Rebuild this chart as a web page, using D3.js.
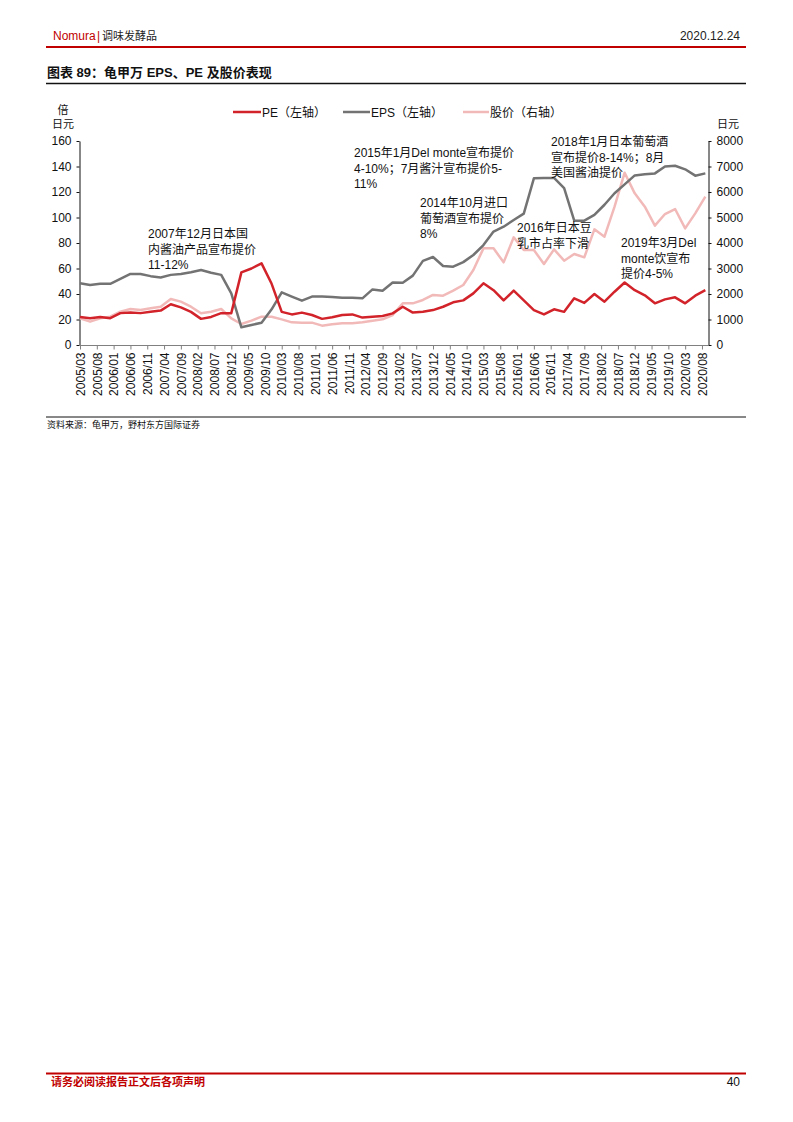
<!DOCTYPE html>
<html><head><meta charset="utf-8">
<script src="https://cdn.jsdelivr.net/npm/d3@7"></script>
<style>
body{margin:0;background:#fff;}
svg{display:block;font-family:"Liberation Sans",Arial,"Noto Sans CJK SC",sans-serif;}
</style></head>
<body>
<svg id="c" width="793" height="1122"></svg>
<script>
const quarters = ["2005/03","2005/06","2005/09","2005/12","2006/03","2006/06","2006/09","2006/12","2007/03","2007/06","2007/09","2007/12","2008/03","2008/06","2008/09","2008/12","2009/03","2009/06","2009/09","2009/12","2010/03","2010/06","2010/09","2010/12","2011/03","2011/06","2011/09","2011/12","2012/03","2012/06","2012/09","2012/12","2013/03","2013/06","2013/09","2013/12","2014/03","2014/06","2014/09","2014/12","2015/03","2015/06","2015/09","2015/12","2016/03","2016/06","2016/09","2016/12","2017/03","2017/06","2017/09","2017/12","2018/03","2018/06","2018/09","2018/12","2019/03","2019/06","2019/09","2019/12","2020/03","2020/06","2020/09"];
const pe = [22,21,22,21,25,25.4,25,26,27,32,29.5,26,20.5,22,25,25,57,60,64,48,26,24,25.4,23.5,20.5,21.7,23.5,24,21.5,22.2,22.7,24.8,30,25.4,26,27.4,30,33.5,35,40.5,48.4,43,35,42.6,35,27.4,24,28,26,36.6,33,40,34,41.8,49,43,39,32.7,35.8,37.4,32.7,38.7,43];
const eps = [48.4,47,48,48,51.8,55.7,55.7,54,53,55,55.7,57,58.8,56.7,55,40.5,13.9,15.7,17.5,28,41.3,38,34.8,38,38,37.6,37,37,36.6,43.6,42.6,49,48.9,54.4,66,69,62,61.4,65,70.6,78.4,89,92.8,98,103,130.7,131,131,123,97.5,97.5,102,110,119,126,133,134,134.6,140,140.6,137.8,132.8,134.6];
const price = [1046,915,1046,1111,1307,1411,1372,1438,1503,1804,1700,1503,1242,1307,1411,1046,823,954,1111,1111,1006,889,876,876,758,810,850,850,889,954,1006,1176,1634,1634,1765,1961,1934,2130,2353,2941,3790,3790,3241,4222,3725,3725,3176,3751,3307,3568,3438,4535,4248,5424,6757,5947,5424,4679,5136,5333,4574,5162,5816];
const xTickLabels = ["2005/03","2005/08","2006/01","2006/06","2006/11","2007/04","2007/09","2008/02","2008/07","2008/12","2009/05","2009/10","2010/03","2010/08","2011/01","2011/06","2011/11","2012/04","2012/09","2013/02","2013/07","2013/12","2014/05","2014/10","2015/03","2015/08","2016/01","2016/06","2016/11","2017/04","2017/09","2018/02","2018/07","2018/12","2019/05","2019/10","2020/03","2020/08"];
const leftTicks = [0,20,40,60,80,100,120,140,160];
const rightTicks = [0,1000,2000,3000,4000,5000,6000,7000,8000];
const seriesNames = ["PE（左轴）","EPS（左轴）","股价（右轴）"];
const annotations = [
  {lines:["2007年12月日本国","内酱油产品宣布提价","11-12%"], x:148, y:238},
  {lines:["2015年1月Del monte宣布提价","4-10%；7月酱汁宣布提价5-","11%"], x:354, y:157},
  {lines:["2014年10月进口","葡萄酒宣布提价","8%"], x:420, y:207},
  {lines:["2016年日本豆","乳市占率下滑"], x:517, y:232},
  {lines:["2018年1月日本葡萄酒","宣布提价8-14%；8月","美国酱油提价"], x:551, y:146},
  {lines:["2019年3月Del","monte饮宣布","提价4-5%"], x:621, y:247}
];

const mIdx = s => { const [y,m] = s.split("/").map(Number); return (y-2005)*12 + (m-3); };
const svg = d3.select("#c");
const RED = "#d2232a", GRAY = "#737373", PINK = "#f2b9b9", HRED = "#c00000";

// header
svg.append("text").attr("x",53).attr("y",40).attr("font-size",12).attr("fill",HRED).text("Nomura");
svg.append("text").attr("x",97).attr("y",40).attr("font-size",12).attr("fill",HRED).text("|");
svg.append("text").attr("x",102).attr("y",40).attr("font-size",11).attr("fill","#222").text("调味发酵品");
svg.append("text").attr("x",740).attr("y",40).attr("font-size",12).attr("text-anchor","end").attr("fill","#222").text("2020.12.24");
svg.append("line").attr("x1",46).attr("x2",746).attr("y1",47).attr("y2",47).attr("stroke",HRED).attr("stroke-width",2);
svg.append("text").attr("x",47).attr("y",77).attr("font-size",13).attr("font-weight","bold").attr("fill","#111").text("图表 89：龟甲万 EPS、PE 及股价表现");
svg.append("line").attr("x1",46).attr("x2",746).attr("y1",83.5).attr("y2",83.5).attr("stroke","#111").attr("stroke-width",1.3);

// scales
const x = d3.scaleLinear().domain([0,187]).range([80,708.7]);
const yL = d3.scaleLinear().domain([0,160]).range([345,141]);
const yR = d3.scaleLinear().domain([0,8000]).range([345,141]);

// axes
const gL = svg.append("g").attr("transform","translate(79.5,0)")
  .call(d3.axisLeft(yL).tickValues(leftTicks).tickFormat(d3.format("d")).tickSize(3).tickSizeOuter(0));
gL.selectAll("text").attr("font-size",12).attr("fill","#111").attr("font-family",null).attr("x",-8);
gL.selectAll("line,path").attr("stroke","#111");
const gR = svg.append("g").attr("transform","translate(708.5,0)")
  .call(d3.axisRight(yR).tickValues(rightTicks).tickFormat(d3.format("d")).tickSize(3).tickSizeOuter(0));
gR.selectAll("text").attr("font-size",12).attr("fill","#111").attr("font-family",null).attr("x",8);
gR.selectAll("line,path").attr("stroke","#111");
const gX = svg.append("g").attr("transform","translate(0,345.5)")
  .call(d3.axisBottom(x).tickValues(xTickLabels.map(mIdx)).tickFormat((d,i)=>xTickLabels[i]).tickSize(4).tickSizeOuter(0));
gX.select("path").attr("stroke","#808080").attr("d","M79.5,0H708.5");
gX.selectAll("line").attr("stroke","#808080");
gX.selectAll("text").attr("font-size",12).attr("fill","#111").attr("font-family",null)
  .attr("transform","rotate(-90)").attr("text-anchor","end").attr("x",-7).attr("y",0).attr("dy","0.35em");

// lines
const mk = (arr, ys) => d3.line().x((d,i)=>x(mIdx(quarters[i]))).y(d=>ys(d))(arr);
svg.append("path").attr("d",mk(price,yR)).attr("fill","none").attr("stroke",PINK).attr("stroke-width",2.5).attr("stroke-linejoin","round");
svg.append("path").attr("d",mk(eps,yL)).attr("fill","none").attr("stroke",GRAY).attr("stroke-width",2.5).attr("stroke-linejoin","round");
svg.append("path").attr("d",mk(pe,yL)).attr("fill","none").attr("stroke",RED).attr("stroke-width",2.5).attr("stroke-linejoin","round");

// unit labels
svg.append("text").attr("x",63).attr("y",114).attr("font-size",11).attr("text-anchor","middle").attr("fill","#111").text("倍");
svg.append("text").attr("x",63).attr("y",128).attr("font-size",11).attr("text-anchor","middle").attr("fill","#111").text("日元");
svg.append("text").attr("x",728).attr("y",128).attr("font-size",11).attr("text-anchor","middle").attr("fill","#111").text("日元");

// legend
const leg = [{c:RED,x1:233,x2:261},{c:GRAY,x1:343,x2:370},{c:PINK,x1:463,x2:489}];
leg.forEach((l,i)=>{
  svg.append("line").attr("x1",l.x1).attr("x2",l.x2).attr("y1",112).attr("y2",112).attr("stroke",l.c).attr("stroke-width",2.5);
  svg.append("text").attr("x",l.x2+1).attr("y",116.5).attr("font-size",12).attr("fill","#111").text(seriesNames[i]);
});

// annotations
annotations.forEach(a=>{
  const t = svg.append("text").attr("font-size",12).attr("fill","#111");
  a.lines.forEach((s,j)=>t.append("tspan").attr("x",a.x).attr("y",a.y+j*15.5).text(s));
});

// bottom rule & source
svg.append("line").attr("x1",46).attr("x2",746).attr("y1",417).attr("y2",417).attr("stroke","#111").attr("stroke-width",1);
svg.append("text").attr("x",47).attr("y",428).attr("font-size",9).attr("fill","#111").text("资料来源：龟甲万，野村东方国际证券");

// footer
svg.append("line").attr("x1",46).attr("x2",746).attr("y1",1073.5).attr("y2",1073.5).attr("stroke",HRED).attr("stroke-width",2);
svg.append("text").attr("x",51).attr("y",1086).attr("font-size",11).attr("font-weight","bold").attr("fill",HRED).text("请务必阅读报告正文后各项声明");
svg.append("text").attr("x",740).attr("y",1086).attr("font-size",12).attr("text-anchor","end").attr("fill","#111").text("40");
</script>
</body></html>
